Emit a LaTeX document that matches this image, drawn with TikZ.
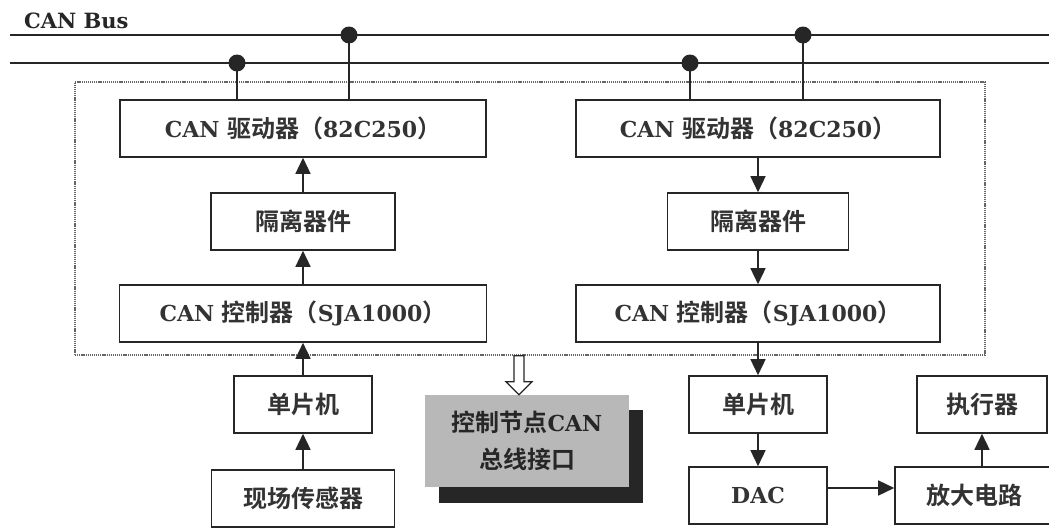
\documentclass[tikz,border=0pt]{standalone}
\usepackage{fontspec}
\setmainfont{DejaVu Serif}
\newfontfamily\cjkf{Noto Sans CJK SC}[BoldFont={* Bold}]
\usetikzlibrary{arrows.meta}
\newcommand\la[1]{{\fontsize{22}{26}\selectfont\bfseries #1}}
\newcommand\cj[1]{{\cjkf\fontsize{24}{28}\selectfont\bfseries #1}}
\begin{document}
\begin{tikzpicture}[x=1pt,y=-1pt,
  box/.style={draw=black!85, line width=1.6pt, inner sep=0pt, minimum height=57pt, text=black!80},
  arr/.style={draw=black!85, line width=1.5pt, -{Triangle[width=15pt,length=16pt]}},
  bus/.style={draw=black!85, line width=1.8pt},
  drop/.style={draw=black!85, line width=1.6pt},
  busdot/.style={circle, fill=black!85, inner sep=0pt, minimum size=17pt},
]
\useasboundingbox[fill=white] (0,0) rectangle (1049,530);

% bus
\node[anchor=west, inner sep=0pt, text=black!85] (lbl) at (24,21) {{\fontsize{21}{24}\selectfont\bfseries CAN Bus}};
\coordinate (b1s) at (10,35);  \coordinate (b1e) at (1055,35);
\coordinate (b2s) at (10,63);  \coordinate (b2e) at (1055,63);
\draw[bus] (b1s) -- (b1e);
\draw[bus] (b2s) -- (b2e);

% dotted frame
\node[draw=black!60, dash pattern=on 1.2pt off 0.9pt, line width=1.5pt, inner sep=0pt,
      minimum width=910pt, minimum height=273pt] (frame) at (530,218.5) {};

% left node
\node[box, minimum width=366pt] (ld) at (303,128.5) {\la{CAN~}\cj{驱动器（}\la{82C250}\cj{）}};
\node[box, minimum width=184pt] (li) at (303,221.5) {\cj{隔离器件}};
\node[box, minimum width=367pt] (lc) at (303,313.5) {\la{CAN~}\cj{控制器（}\la{SJA1000}\cj{）}};
\node[box, minimum width=138pt] (lm) at (303,404.5) {\cj{单片机}};
\node[box, minimum width=183pt] (ls) at (303,498.5) {\cj{现场传感器}};

% right node
\node[box, minimum width=364pt] (rd) at (758,128.5) {\la{CAN~}\cj{驱动器（}\la{82C250}\cj{）}};
\node[box, minimum width=181pt] (ri) at (758,221.5) {\cj{隔离器件}};
\node[box, minimum width=364pt] (rc) at (758,313.5) {\la{CAN~}\cj{控制器（}\la{SJA1000}\cj{）}};
\node[box, minimum width=138pt] (rm) at (758,404.5) {\cj{单片机}};
\node[box, minimum width=138pt] (rdac) at (758,495.5) {\la{DAC}};
\node[box, minimum width=130pt] (ra) at (982,404.5) {\cj{执行器}};
\node[box, minimum width=158pt] (rb) at (974,495.5) {\cj{放大电路}};

% bus taps
\node[busdot] (t1) at (237,63) {};
\node[busdot] (t2) at (349,35) {};
\node[busdot] (t3) at (690,63) {};
\node[busdot] (t4) at (803,35) {};
\draw[drop] (t1.center) -- (t1.center |- ld.north);
\draw[drop] (t2.center) -- (t2.center |- ld.north);
\draw[drop] (t3.center) -- (t3.center |- rd.north);
\draw[drop] (t4.center) -- (t4.center |- rd.north);

% left arrows (upward)
\draw[arr] (li.north) -- (li.north |- ld.south);
\draw[arr] (lc.north) -- (lc.north |- li.south);
\draw[arr] (lm.north) -- (lm.north |- lc.south);
\draw[arr] (ls.north) -- (ls.north |- lm.south);

% right arrows
\draw[arr] (ri.north |- rd.south) -- (ri.north);
\draw[arr] (ri.south) -- (ri.south |- rc.north);
\draw[arr] (rm.north |- rc.south) -- (rm.north);
\draw[arr] (rm.south) -- (rdac.north);
\draw[arr] ([yshift=7.5pt]rdac.east) -- ([yshift=7.5pt]rdac.east -| rb.west);
\draw[arr] (ra.south |- rb.north) -- (ra.south);

% interface box with shadow
\fill[black!85] (439,410) rectangle (643,503);
\node[fill=black!28, inner sep=0pt, minimum width=204pt, minimum height=92pt, align=center,
      text=black!85, font=\fontsize{24}{37}\selectfont] (gb) at (527,441)
      {\cj{控制节点}\la{CAN}\\\cj{总线接口}};

% hollow arrow from frame to interface box
\coordinate (ha) at (519,0);
\draw[draw=black!85, fill=white, line width=1.2pt]
  (ha |- frame.south) ++(-5,0) -- ++(10,0) -- ++(0,26) -- ++(8,0)
  -- (ha |- gb.north) -- ++(-13,-13) -- ++(8,0) -- cycle;
\end{tikzpicture}
\end{document}
